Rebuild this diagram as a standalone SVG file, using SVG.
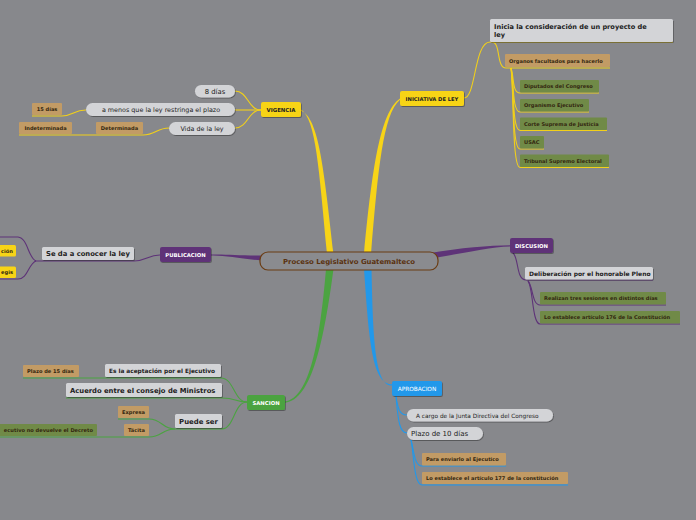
<svg xmlns="http://www.w3.org/2000/svg" width="696" height="520" viewBox="0 0 696 520">
<defs>
<filter id="sh" x="-10%" y="-30%" width="130%" height="180%">
<feDropShadow dx="0.8" dy="1" stdDeviation="0.7" flood-color="#000" flood-opacity="0.35"/>
</filter>
</defs>
<style>
text{font-family:"DejaVu Sans","Liberation Sans",sans-serif;fill:#222;}
.pill{fill:#d3d4d7;filter:url(#sh);}
.box{fill:#d3d4d7;filter:url(#sh);}
.tan{fill:#c29b65;}
.olive{fill:#708a47;}
.yel{fill:#f7d417;filter:url(#sh);}
.pur{fill:#5e3378;filter:url(#sh);}
.grn{fill:#4ba341;filter:url(#sh);}
.blu{fill:#2298ea;filter:url(#sh);}
.c{fill:none;stroke-width:1.1;}
.cy{stroke:#f2d01a;}
.cp{stroke:#5e3378;}
.cg{stroke:#4ba341;}
.cb{stroke:#2298ea;}
.sm{font-size:5.1px;font-weight:bold;fill:#33260f;}
.bold{font-weight:bold;}
.w{fill:#fff;font-weight:bold;font-size:5.3px;}
</style>
<rect width="696" height="520" fill="#87888c"/>

<g id="connectors">
<path d="M 327 254 C 319 170, 316 119, 301 109.5 L 301 110.8 C 319 118, 324 170, 333.5 254 Z" fill="#f7d417"/>
<path d="M 364 254 C 372 170, 380 112, 400 98.5 L 400 99.8 C 383 114, 378 170, 371 254 Z" fill="#f7d417"/>
<path d="M 262 255.5 C 240 255.5, 225 254, 211 254.5 L 211 255.6 C 225 255.2, 240 259, 262 260.5 Z" fill="#5e3378"/>
<path d="M 430 253 C 460 248, 490 245.5, 510 245.3 L 510 246.5 C 490 247, 465 253, 434 258 Z" fill="#5e3378"/>
<path d="M 326 269 C 320 340, 310 398, 285 401.5 L 285 402.8 C 312 400, 324 340, 333.5 269 Z" fill="#4ba341"/>
<path d="M 364 269 C 369 340, 372 384, 392 384.3 L 392 385.6 C 375 386, 373 340, 371.5 269 Z" fill="#2298ea"/>

<path class="c cy" d="M 261 110 C 248 110, 248 91, 235 91"/>
<path class="c cy" d="M 261 110 L 235 110"/>
<path class="c cy" d="M 261 110 C 248 110, 248 128, 235 128"/>
<path class="c cy" d="M 86 110 C 74 110, 72 116, 62 116 L 32 116"/>
<path class="c cy" d="M 169 128 C 157 128, 155 135, 143 135 L 19 135"/>

<path class="c cy" d="M 464 98 C 476 98, 474 42, 490 42 L 673 42"/>
<path class="c cy" d="M 492 42 C 501 42, 496 68, 506 68 L 610 68"/>
<path class="c cy" d="M 511 68 C 514 76, 512 93, 520 93 L 599 93"/>
<path class="c cy" d="M 511 68 C 514 80, 512 112, 520 112 L 589 112"/>
<path class="c cy" d="M 511 68 C 514 84, 512 130.5, 520 130.5 L 607 130.5"/>
<path class="c cy" d="M 511 68 C 514 88, 512 149, 520 149 L 544 149"/>
<path class="c cy" d="M 511 68 C 514 92, 512 167.5, 520 167.5 L 609 167.5"/>

<path class="c cp" d="M 513 253 C 519 258, 516 280, 526 280 L 653 280"/>
<path class="c cp" d="M 528 281 C 533 286, 532 305, 540 305 L 666 305"/>
<path class="c cp" d="M 528 281 C 533 286, 532 324, 540 324 L 680 324"/>

<path class="c cp" d="M 160 255 C 148 255, 146 261, 134 261 L 35 261"/>
<path class="c cp" d="M 36 261 C 28 258, 28 238, 18 237 L 0 237"/>
<path class="c cp" d="M 36 261 C 28 264, 28 279, 18 279 L 0 279"/>

<path class="c cg" d="M 247 402 C 234 402, 234 378, 221 378 L 23 378"/>
<path class="c cg" d="M 247 402 C 236 402, 236 398, 222 398 L 66 398"/>
<path class="c cg" d="M 247 402 C 234 402, 234 429, 222 429 L 175 429"/>
<path class="c cg" d="M 175 429 C 162 429, 162 419, 149 419 L 118 419"/>
<path class="c cg" d="M 175 429 C 162 429, 162 437, 149 437 L 0 437"/>

<path class="c cb" d="M 396 396 C 398 410, 400 415, 407 415"/>
<path class="c cb" d="M 396 396 C 398 422, 400 433, 407 433"/>
<path class="c cb" d="M 411 440 C 414 450, 414 466, 422 466 L 506 466"/>
<path class="c cb" d="M 411 440 C 414 455, 414 485, 422 485 L 568 485"/>
</g>

<g id="central">
<rect x="260" y="252" width="178" height="18" rx="8" fill="#8a8b8f" stroke="#6b3c12" stroke-width="1.2"/>
<text x="349" y="263.5" text-anchor="middle" font-size="6.9" font-weight="bold" style="fill:#5a3210">Proceso Legislativo Guatemalteco</text>
</g>

<g id="vigencia"><rect class="yel" x="261" y="102" width="40" height="15" rx="2"/><text x="281" y="111.8" text-anchor="middle" class="bold" font-size="5.4">VIGENCIA</text></g>
<g id="ocho-dias"><rect class="pill" x="195" y="85" width="40" height="12.5" rx="6.2"/><text x="215" y="93.6" text-anchor="middle" font-size="6.8">8 días</text></g>
<g id="a-menos"><rect class="pill" x="86" y="103" width="149" height="13" rx="6.5"/><text x="161" y="111.8" text-anchor="middle" font-size="6.4">a menos que la ley restringa el plazo</text></g>
<g id="vida"><rect class="pill" x="169" y="122" width="66" height="13" rx="6.5"/><text x="202" y="130.8" text-anchor="middle" font-size="6.4">Vida de la ley</text></g>
<g id="quince-dias"><rect class="tan" x="32" y="103" width="30" height="12" rx="1"/><text x="47" y="110.8" text-anchor="middle" class="sm">15 días</text></g>
<g id="determinada"><rect class="tan" x="96" y="122" width="47" height="12" rx="1"/><text x="119.5" y="129.8" text-anchor="middle" class="sm">Determinada</text></g>
<g id="indeterminada"><rect class="tan" x="19" y="122" width="53" height="12" rx="1"/><text x="45.5" y="129.8" text-anchor="middle" class="sm">Indeterminada</text></g>

<g id="iniciativa"><rect class="yel" x="400" y="91" width="64" height="15" rx="2"/><text x="432" y="100.8" text-anchor="middle" class="bold" font-size="5.2">INICIATIVA DE LEY</text></g>
<g id="inicia"><rect class="box" x="490" y="19" width="183" height="23" rx="1.5"/><text x="494" y="28.5" class="bold" font-size="6.6">Inicia la consideración de un proyecto de</text><text x="494" y="37" class="bold" font-size="6.6">ley</text></g>
<g id="organos"><rect class="tan" x="505" y="54" width="105" height="13" rx="1"/><text x="509" y="62.6" class="sm">Organos facultados para hacerlo</text></g>
<g id="diputados"><rect class="olive" x="520" y="80" width="79" height="12.5" rx="1"/><text x="524" y="88.3" class="sm">Diputados del Congreso</text></g>
<g id="organismo"><rect class="olive" x="520" y="99" width="69" height="12.5" rx="1"/><text x="524" y="107.3" class="sm">Organismo Ejecutivo</text></g>
<g id="corte"><rect class="olive" x="520" y="117.5" width="87" height="12.5" rx="1"/><text x="524" y="125.8" class="sm">Corte Suprema de Justicia</text></g>
<g id="usac"><rect class="olive" x="520" y="136" width="24" height="12.5" rx="1"/><text x="524" y="144.3" class="sm">USAC</text></g>
<g id="tribunal"><rect class="olive" x="520" y="154.5" width="89" height="12.5" rx="1"/><text x="524" y="162.8" class="sm">Tribunal Supremo Electoral</text></g>

<g id="discusion"><rect class="pur" x="510" y="238" width="43" height="15" rx="2"/><text x="531.5" y="247.8" text-anchor="middle" class="w">DISCUSION</text></g>
<g id="deliberacion"><rect class="box" x="525" y="267" width="128" height="12.5" rx="1.5"/><text x="529" y="275.6" class="bold" font-size="6">Deliberación por el honorable Pleno</text></g>
<g id="realizan"><rect class="olive" x="540" y="292" width="126" height="12.5" rx="1"/><text x="544" y="300.3" class="sm">Realizan tres sesiones en distintos días</text></g>
<g id="art176"><rect class="olive" x="540" y="311" width="140" height="12.5" rx="1"/><text x="544" y="319.3" class="sm">Lo establece artículo 176 de la Constitución</text></g>

<g id="publicacion"><rect class="pur" x="160" y="247" width="51" height="15" rx="2"/><text x="185.5" y="256.8" text-anchor="middle" class="w">PUBLICACION</text></g>
<g id="se-da"><rect class="box" x="42" y="247" width="92" height="13" rx="1.5"/><text x="46" y="256.3" class="bold" font-size="6.8">Se da a conocer la ley</text></g>
<g id="cion"><rect x="-4" y="245" width="20" height="11.5" rx="1.5" fill="#f7d417"/><text x="13" y="252.8" text-anchor="end" class="sm">ción</text></g>
<g id="egis"><rect x="-4" y="266.5" width="20" height="11.5" rx="1.5" fill="#f7d417"/><text x="13" y="274.3" text-anchor="end" class="sm">egis</text></g>

<g id="sancion"><rect class="grn" x="247" y="395" width="38" height="15" rx="2"/><text x="266" y="404.8" text-anchor="middle" class="w">SANCION</text></g>
<g id="aceptacion"><rect class="box" x="105" y="364" width="116" height="13" rx="1.5"/><text x="109" y="372.8" class="bold" font-size="5.8">Es la aceptación por el Ejecutivo</text></g>
<g id="plazo15"><rect class="tan" x="23" y="365" width="56" height="12" rx="1"/><text x="27" y="372.8" class="sm">Plazo de 15 días</text></g>
<g id="acuerdo"><rect class="box" x="66" y="383" width="156" height="14" rx="1.5"/><text x="70" y="392.6" class="bold" font-size="6.8">Acuerdo entre el consejo de Ministros</text></g>
<g id="puede-ser"><rect class="box" x="175" y="414" width="47" height="14" rx="1.5"/><text x="198.5" y="423.8" text-anchor="middle" class="bold" font-size="6.9">Puede ser</text></g>
<g id="expresa"><rect class="tan" x="118" y="406" width="31" height="12" rx="1"/><text x="133.5" y="413.8" text-anchor="middle" class="sm">Expresa</text></g>
<g id="tacita"><rect class="tan" x="124" y="424" width="25" height="12" rx="1"/><text x="136.5" y="431.8" text-anchor="middle" class="sm">Tácita</text></g>
<g id="no-devuelve"><rect class="olive" x="-4" y="424" width="101" height="12" rx="1"/><text x="93" y="431.8" text-anchor="end" class="sm">ecutivo no devuelve el Decreto</text></g>

<g id="aprobacion"><rect class="blu" x="392" y="381" width="50" height="15" rx="2"/><text x="417" y="390.8" text-anchor="middle" font-size="5.8" style="fill:#fff">APROBACION</text></g>
<g id="a-cargo"><rect class="pill" x="407" y="409" width="146" height="12.5" rx="6.2"/><text x="416" y="417.5" font-size="5.8">A cargo de la Junta Directiva del Congreso</text></g>
<g id="plazo10"><rect class="pill" x="407" y="427" width="76" height="13" rx="6.5"/><text x="411" y="436" font-size="7">Plazo de 10 días</text></g>
<g id="enviarlo"><rect class="tan" x="422" y="453" width="84" height="12.5" rx="1"/><text x="426" y="461.3" class="sm">Para enviarlo al Ejecutico</text></g>
<g id="art177"><rect class="tan" x="422" y="472" width="146" height="12" rx="1"/><text x="426" y="480.1" class="sm">Lo establece el artículo 177 de la constitución</text></g>
</svg>
